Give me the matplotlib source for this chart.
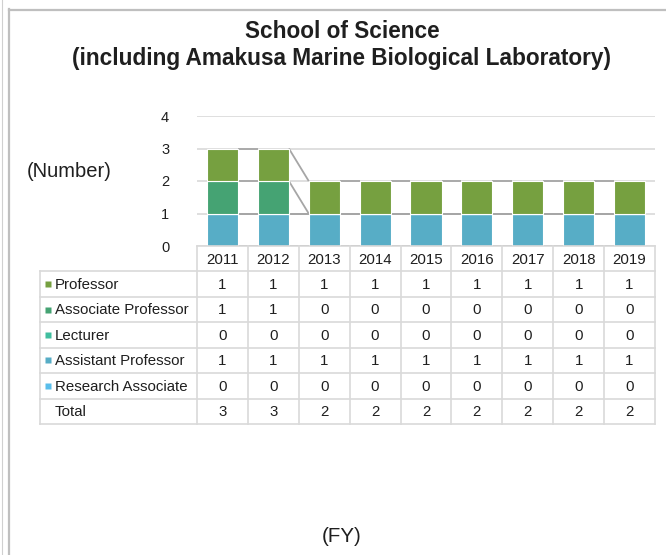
import matplotlib
matplotlib.use("Agg")
import matplotlib.pyplot as plt
from matplotlib.lines import Line2D
import numpy as np

plt.rcParams['font.family'] = ['Liberation Sans', 'DejaVu Sans']

years = ["2011", "2012", "2013", "2014", "2015", "2016", "2017", "2018", "2019"]
professor = [1, 1, 1, 1, 1, 1, 1, 1, 1]
associate_professor = [1, 1, 0, 0, 0, 0, 0, 0, 0]
lecturer = [0, 0, 0, 0, 0, 0, 0, 0, 0]
assistant_professor = [1, 1, 1, 1, 1, 1, 1, 1, 1]
research_associate = [0, 0, 0, 0, 0, 0, 0, 0, 0]

# table order (top to bottom)
table_labels = ["Professor", "Associate Professor", "Lecturer",
                "Assistant Professor", "Research Associate"]
table_values = [professor, associate_professor, lecturer,
                assistant_professor, research_associate]
colors = ["#76A040", "#45A373", "#40BE9F", "#57ADC6", "#5ABEEB"]

W, H = 666, 555
fig = plt.figure(figsize=(W / 100, H / 100), dpi=100)

def fx(x):
    return x / W

def fy(y):
    return 1 - y / H

TXT = "#1f1f1f"
GRID = "#d9d9d9"

# frame lines
fig.add_artist(Line2D([fx(1.5), fx(1.5)], [0, 1], color="#d0d0d0", lw=0.8))
fig.add_artist(Line2D([fx(8.5), fx(8.5)], [0, fy(9)], color="#bfbfbf", lw=1.6))
fig.add_artist(Line2D([fx(8.5), 1], [fy(9.5), fy(9.5)], color="#bfbfbf", lw=1.6))

# main axes
L, R, T, B = 197, 655, 116, 246
ax = fig.add_axes([fx(L), fy(B), fx(R) - fx(L), fy(T) - fy(B)])
x = np.arange(len(years))
ax.set_xlim(-0.5, len(years) - 0.5)
ax.set_ylim(0, 4)
for s in ax.spines.values():
    s.set_visible(False)
ax.set_xticks([])
ax.set_yticks([0, 1, 2, 3, 4])
ax.tick_params(axis='y', length=0, pad=20, labelsize=10.5, labelcolor=TXT)
ax.yaxis.grid(True, color=GRID, lw=1.2)
ax.set_axisbelow(True)

stack_order = list(range(len(table_labels)))[::-1]  # bottom: research associate
bw = 0.61
bottom = np.zeros(len(years))
tops = []
for i in stack_order:
    vals = np.array(table_values[i], dtype=float)
    ax.bar(x, vals, bw, bottom=bottom, color=colors[i], edgecolor="white",
           linewidth=0.8, zorder=3)
    bottom = bottom + vals
    tops.append(bottom.copy())

# series lines
for top in tops:
    for k in range(len(years) - 1):
        ax.plot([x[k] + bw / 2, x[k + 1] - bw / 2], [top[k], top[k + 1]],
                color="#a6a6a6", lw=1.3, zorder=2, solid_capstyle='butt')

# table axes
TB = 424
tax = fig.add_axes([fx(40), fy(TB), fx(R) - fx(40), fy(B) - fy(TB)])
unit = (R - L) / len(years)
lab_w = (L - 40) / unit
x0 = -0.5 - lab_w
tax.set_xlim(x0, len(years) - 0.5)
nrows = len(table_labels) + 2
tax.set_ylim(nrows, 0)
tax.axis("off")

lw_t = 1.2
tax.plot([-0.5, len(years) - 0.5], [0, 0], color=GRID, lw=lw_t, clip_on=False)
for r in range(1, nrows + 1):
    tax.plot([x0, len(years) - 0.5], [r, r], color=GRID, lw=lw_t, clip_on=False)
tax.plot([x0, x0], [1, nrows], color=GRID, lw=lw_t, clip_on=False)
for k in range(len(years) + 1):
    tax.plot([k - 0.5, k - 0.5], [0, nrows], color=GRID, lw=lw_t, clip_on=False)

fs = 10.8
for k, yr in enumerate(years):
    tax.text(k, 0.55, yr, ha="center", va="center", fontsize=fs, color=TXT)

mx = x0 + 8 / unit
tx = x0 + 15 / unit
totals = np.sum(np.array(table_values), axis=0)
for r, (lab, vals) in enumerate(zip(table_labels, table_values)):
    yy = r + 1.5
    tax.plot([mx], [yy], marker="s", ms=4.3, color=colors[r], mec="none")
    tax.text(tx, yy + 0.03, lab, ha="left", va="center", fontsize=fs, color=TXT)
    for k, v in enumerate(vals):
        tax.text(k, yy + 0.03, str(v), ha="center", va="center", fontsize=fs, color=TXT)
yy = nrows - 0.5
tax.text(tx, yy + 0.03, "Total", ha="left", va="center", fontsize=fs, color=TXT)
for k, v in enumerate(totals):
    tax.text(k, yy + 0.03, str(int(v)), ha="center", va="center", fontsize=fs, color=TXT)

# titles and axis labels
fig.text(fx(342), fy(45), "School of Science\n(including Amakusa Marine Biological Laboratory)",
         ha="center", va="center", fontsize=16.3, fontweight="bold", color=TXT,
         linespacing=1.2)
fig.text(fx(69.5), fy(172), "(Number)", ha="center", va="center", fontsize=14.5, color=TXT)
fig.text(fx(342), fy(537), "(FY)", ha="center", va="center", fontsize=14.8, color=TXT)

fig.savefig("out.png", dpi=100)
